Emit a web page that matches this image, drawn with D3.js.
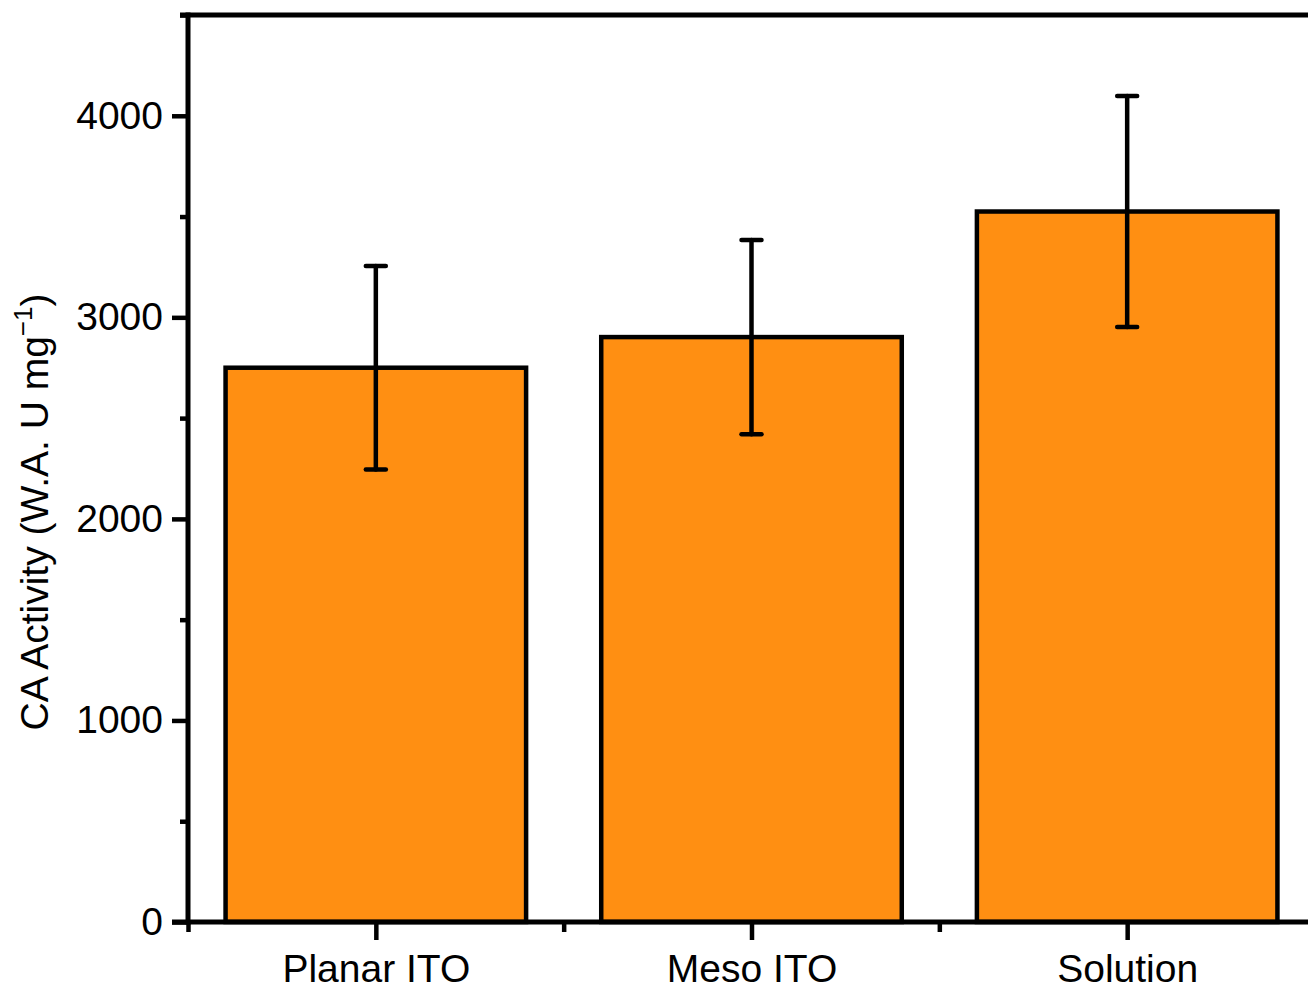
<!DOCTYPE html>
<html><head><meta charset="utf-8">
<script src="https://cdn.jsdelivr.net/npm/d3@7"></script>
<style>body{margin:0;background:#fff}svg{display:block;font-family:"Liberation Sans",Arial,sans-serif}</style>
</head><body><svg id="c" width="1308" height="989"></svg>
<script>
const categories = ["Planar ITO", "Meso ITO", "Solution"];
const values = [2750, 2902, 3525];
const errors = [505, 482, 573];
const yTicks = [0, 1000, 2000, 3000, 4000];
const yMinorTicks = [500, 1500, 2500, 3500, 4500];

const svg = d3.select("#c");
const x = d3.scaleLinear().domain([0.5, 3.5]).range([188, 1315]);
const y = d3.scaleLinear().domain([0, 4500]).range([922, 15]);
const bw = (x(1) - x(0)) * 0.8;
const data = categories.map((c, i) => ({c, i: i + 1, v: values[i], e: errors[i]}));
const FS = 39;

// bars
svg.selectAll("rect.bar").data(data).join("rect")
  .attr("x", d => x(d.i) - bw / 2).attr("width", bw)
  .attr("y", d => y(d.v)).attr("height", d => y(0) - y(d.v))
  .attr("fill", "#FF8F12").attr("stroke", "#000").attr("stroke-width", 4.5);

// error bars
const eb = svg.append("g").attr("stroke", "#000").attr("stroke-width", 4.5).attr("stroke-linecap", "round");
eb.selectAll("line.v").data(data).join("line")
  .attr("x1", d => x(d.i)).attr("x2", d => x(d.i))
  .attr("y1", d => y(d.v + d.e)).attr("y2", d => y(d.v - d.e));
eb.selectAll("line.t").data(data).join("line")
  .attr("x1", d => x(d.i) - 10).attr("x2", d => x(d.i) + 10)
  .attr("y1", d => y(d.v + d.e)).attr("y2", d => y(d.v + d.e));
eb.selectAll("line.b").data(data).join("line")
  .attr("x1", d => x(d.i) - 10).attr("x2", d => x(d.i) + 10)
  .attr("y1", d => y(d.v - d.e)).attr("y2", d => y(d.v - d.e));

// y axis
const yAxis = svg.append("g").attr("transform", "translate(188,0)")
  .call(d3.axisLeft(y).tickValues(yTicks).tickSize(16).tickPadding(9).tickFormat(d3.format("d")));
yAxis.select(".domain").remove();
yAxis.selectAll(".tick line").attr("stroke-width", 4.5);
yAxis.selectAll(".tick text").attr("font-size", FS).attr("fill", "#000").attr("font-family", "Liberation Sans, Arial, sans-serif");
const yMinor = svg.append("g").attr("transform", "translate(188,0)")
  .call(d3.axisLeft(y).tickValues(yMinorTicks).tickSize(8).tickFormat(""));
yMinor.select(".domain").remove();
yMinor.selectAll(".tick line").attr("stroke-width", 4.5);

// x axis
const xAxis = svg.append("g").attr("transform", "translate(0,922)")
  .call(d3.axisBottom(x).tickValues([1, 2, 3]).tickSize(18).tickPadding(14).tickFormat((d, i) => categories[i]));
xAxis.select(".domain").remove();
xAxis.selectAll(".tick line").attr("stroke-width", 4.5);
xAxis.selectAll(".tick text").attr("font-size", FS).attr("fill", "#000").attr("font-family", "Liberation Sans, Arial, sans-serif");
const xMinor = svg.append("g").attr("transform", "translate(0,922)")
  .call(d3.axisBottom(x).tickValues([0.5, 1.5, 2.5, 3.5]).tickSize(10).tickFormat(""));
xMinor.select(".domain").remove();
xMinor.selectAll(".tick line").attr("stroke-width", 4.5);

// frame
const fr = svg.append("g").attr("stroke", "#000").attr("stroke-width", 5).attr("fill", "none");
fr.append("line").attr("x1", x(0.5)).attr("x2", x(0.5)).attr("y1", y(4500) - 2.5).attr("y2", y(0) + 2.5);
fr.append("line").attr("x1", x(0.5) - 8).attr("x2", x(3.5)).attr("y1", y(4500)).attr("y2", y(4500));
fr.append("line").attr("x1", x(0.5) - 16).attr("x2", x(3.5)).attr("y1", y(0)).attr("y2", y(0));

// y title
const t = svg.append("text").attr("transform", `translate(48,512) rotate(-90)`)
  .attr("text-anchor", "middle").attr("font-size", FS).attr("fill", "#000");
t.append("tspan").text("CA Activity (W.A. U mg");
t.append("tspan").attr("font-size", 26).attr("dy", -16).text("\u22121");
t.append("tspan").attr("dy", 16).text(")");
</script></body></html>
